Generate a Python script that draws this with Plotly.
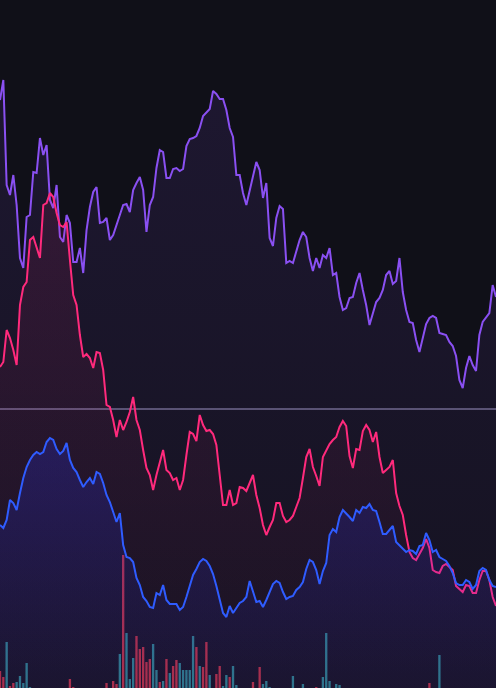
import plotly.graph_objects as go

# Index levels (0 = bottom of chart, 688 = top)
purple_px = [100, 80, 185, 195, 175, 205, 258, 268, 217, 215, 172, 173, 138, 155, 145, 200, 208, 185, 237, 242,
             215, 223, 262, 262, 248, 273, 230, 207, 192, 187, 223, 222, 218, 240, 235, 224, 215, 205, 204, 212,
             190, 183, 177, 190, 232, 205, 197, 168, 150, 152, 178, 178, 169, 168, 171, 169, 146, 139, 138, 136,
             128, 116, 113, 109, 91, 94, 99, 99, 110, 128, 137, 175, 175, 193, 205, 190, 175, 162, 170, 198,
             183, 238, 246, 218, 206, 209, 263, 261, 263, 250, 240, 232, 237, 258, 271, 258, 268, 255, 258, 248,
             275, 273, 297, 310, 308, 298, 297, 283, 273, 290, 305, 325, 313, 302, 298, 290, 275, 271, 284, 281,
             258, 292, 310, 322, 323, 340, 352, 337, 324, 318, 316, 318, 333, 334, 335, 342, 346, 356, 380, 388,
             368, 356, 365, 371, 335, 322, 317, 313, 285, 297]
pink_px = [367, 362, 330, 338, 350, 365, 305, 287, 282, 240, 237, 248, 258, 205, 203, 193, 197, 213, 225, 227,
           222, 260, 295, 305, 335, 357, 354, 358, 368, 352, 353, 370, 405, 407, 420, 437, 420, 430, 422, 412,
           397, 420, 430, 450, 468, 475, 490, 475, 462, 450, 470, 473, 480, 478, 490, 480, 455, 432, 434, 441,
           415, 425, 431, 430, 434, 445, 475, 505, 505, 490, 505, 503, 487, 488, 491, 482, 475, 495, 508, 525,
           535, 527, 520, 503, 503, 516, 522, 520, 516, 507, 498, 478, 457, 449, 467, 476, 486, 457, 450, 444,
           440, 437, 427, 421, 426, 456, 468, 449, 450, 431, 425, 430, 442, 432, 457, 473, 470, 467, 460, 493,
           506, 515, 535, 552, 558, 560, 554, 548, 539, 548, 570, 572, 573, 566, 564, 567, 570, 586, 589, 592,
           585, 586, 593, 593, 580, 571, 571, 580, 597, 606]
blue_px = [525, 528, 520, 500, 503, 510, 493, 478, 467, 460, 455, 452, 454, 452, 442, 438, 440, 449, 454, 451,
           443, 460, 468, 472, 480, 487, 482, 478, 484, 472, 474, 483, 495, 502, 512, 522, 513, 545, 557, 558,
           562, 578, 585, 597, 601, 607, 608, 593, 595, 585, 600, 604, 604, 604, 610, 607, 597, 587, 575, 569,
           562, 559, 561, 566, 574, 586, 600, 613, 617, 606, 613, 608, 603, 601, 597, 581, 592, 602, 601, 607,
           600, 591, 584, 581, 583, 592, 599, 597, 596, 590, 587, 582, 569, 560, 562, 570, 584, 571, 563, 535,
           529, 532, 517, 510, 513, 517, 521, 510, 513, 507, 508, 504, 510, 511, 522, 534, 534, 530, 526, 542,
           545, 548, 552, 550, 551, 554, 546, 545, 533, 540, 552, 550, 557, 559, 561, 566, 573, 583, 585, 585,
           580, 582, 589, 585, 571, 568, 570, 580, 586, 587]

volume = [17, 11, 46, 2, 5, 6, 12, 5, 25, 1, 0, 0, 0, 0, 0, 0, 0, 0, 0, 0,
          0, 9, 1, 0, 0, 0, 0, 0, 0, 0, 0, 0, 5, 0, 7, 4, 34, 133, 55, 9,
          30, 52, 39, 41, 26, 29, 44, 18, 6, 7, 29, 15, 22, 28, 25, 18, 18, 18, 52, 41,
          22, 21, 46, 13, 0, 14, 22, 2, 13, 11, 22, 3, 0, 0, 0, 0, 6, 0, 21, 4,
          7, 1, 0, 0, 0, 0, 0, 0, 12, 0, 0, 4, 0, 0, 0, 1, 0, 11, 55, 7,
          0, 4, 3, 0, 0, 0, 0, 0, 0, 0, 0, 0, 0, 0, 0, 0, 0, 0, 0, 0,
          0, 0, 0, 0, 0, 0, 0, 0, 0, 5, 0, 0, 33, 0, 0, 0, 0, 0, 0, 0,
          0, 0, 0, 0, 0, 0, 0, 0, 0, 0]
direction = [-1, -1, 1, -1, -1, 1, 1, 1, 1, 1, 1, 1, 1, 1, 1, 1, 1, 1, 1, 1,
             1, -1, -1, 1, 1, 1, 1, 1, 1, 1, 1, 1, -1, 1, -1, -1, 1, -1, 1, 1,
             1, -1, -1, -1, -1, -1, 1, 1, -1, 1, -1, 1, -1, -1, 1, 1, 1, 1, 1, -1,
             1, -1, -1, 1, 1, -1, -1, 1, 1, -1, 1, 1, 1, 1, 1, 1, -1, 1, -1, 1,
             1, 1, 1, 1, 1, 1, 1, 1, 1, 1, 1, 1, 1, 1, 1, -1, 1, 1, 1, 1,
             1, 1, 1, 1, 1, 1, 1, 1, 1, 1, 1, 1, 1, 1, 1, 1, 1, 1, 1, 1,
             1, 1, 1, 1, 1, 1, 1, 1, 1, -1, 1, 1, 1, 1, 1, 1, 1, 1, 1, 1,
             1, 1, 1, 1, 1, 1, 1, 1, 1, 1]

reference_level = 279
CHART_TOP = 688

x = list(range(len(purple_px)))
purple = [CHART_TOP - v for v in purple_px]
pink = [CHART_TOP - v for v in pink_px]
blue = [CHART_TOP - v for v in blue_px]

BG = "#101018"
UP = "rgba(42,135,140,0.9)"
DOWN = "rgba(190,48,60,0.92)"

fig = go.Figure()

series = [
    (purple, "#8a50f2", (138, 80, 242), 0.04, 0.11),
    (pink, "#ff2a7c", (255, 42, 124), 0.02, 0.10),
    (blue, "#2f5cff", (40, 50, 255), 0.06, 0.22),
]
for vals, col, rgb, a0, a1 in series:
    r, g, b = rgb
    fig.add_trace(go.Scatter(
        x=x, y=vals, mode="lines",
        line=dict(color=col, width=2),
        fill="tozeroy",
        fillgradient=dict(type="vertical", colorscale=[
            [0.0, f"rgba({r},{g},{b},{a0})"],
            [1.0, f"rgba({r},{g},{b},{a1})"],
        ]),
        hoverinfo="skip",
    ))

fig.add_trace(go.Bar(
    x=x, y=volume,
    marker=dict(color=[UP if d > 0 else DOWN for d in direction], line=dict(width=0)),
    hoverinfo="skip",
))

fig.add_shape(type="line", xref="paper", x0=0, x1=1, yref="y",
              y0=reference_level, y1=reference_level,
              line=dict(color="rgba(110,105,135,0.75)", width=2), layer="below")

fig.update_layout(
    width=496, height=688,
    margin=dict(l=0, r=0, t=0, b=0),
    paper_bgcolor=BG, plot_bgcolor=BG,
    showlegend=False,
    bargap=0.3,
    xaxis=dict(visible=False, range=[0, len(x) - 1], fixedrange=True),
    yaxis=dict(visible=False, range=[0, CHART_TOP], fixedrange=True),
)

fig.write_html("out.html", config={"displayModeBar": False},
               post_script="document.body.style.margin='0';document.body.style.overflow='hidden';document.body.style.background='#101018';")
